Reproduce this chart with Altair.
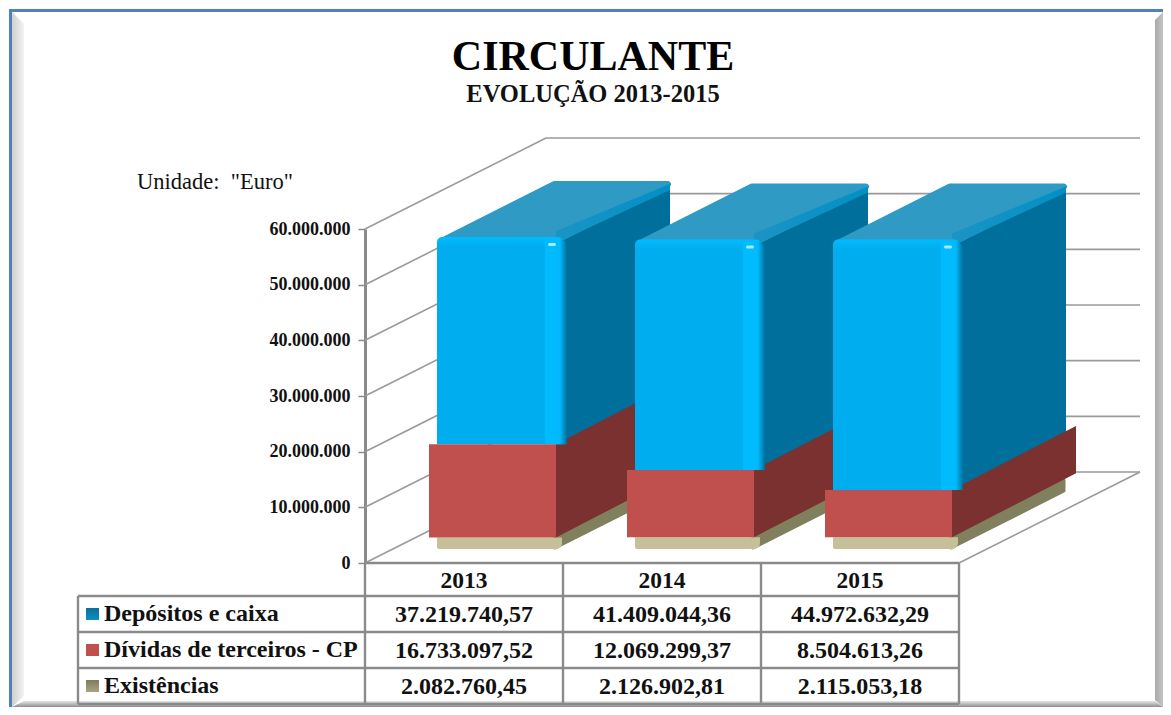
import altair as alt
import pandas as pd

YEARS = ["2013", "2014", "2015"]
SERIES = ["Depósitos e caixa", "Dívidas de terceiros - CP", "Existências"]
DEPOSITOS = [37219740.57, 41409044.36, 44972632.29]
DIVIDAS = [16733097.52, 12069299.37, 8504613.26]
EXISTENCIAS = [2082760.45, 2126902.81, 2115053.18]
TICKS = [0, 10000000, 20000000, 30000000, 40000000, 50000000, 60000000]

FONT = "Liberation Serif"
GRID = "#9a9a9a"
TBL = "#8a8a8a"

# layout helpers: picture position -> scale units
SLOT = 198.0
def ux(px): return (px - 365.0) / SLOT
def uy(py): return (563.0 - py) / 334.0 * 60000000.0
def dxu(d): return d / SLOT
def dyu(d): return d / 334.0 * 60000000.0

BASE = uy(549)
xs = alt.Scale(domain=[0, 3], nice=False, zero=False)
ys = alt.Scale(domain=[0, 60000000], nice=False, zero=False)
AX = alt.Axis(values=TICKS, grid=False, tickSize=7, tickColor=TBL, tickWidth=1.5, domainColor=TBL, domainWidth=3,
              labelFont=FONT, labelFontWeight="bold", labelFontSize=18, labelColor="#111", labelPadding=8,
              labelExpr="replace(format(datum.value, ','), /,/g, '.')")
X = alt.X("x:Q", scale=xs, axis=None)
X2 = alt.X2("x2:Q")
Y = alt.Y("y:Q", scale=ys, axis=AX, title=None)
Y2 = alt.Y2("y2:Q")

def grad(c0, c1, vertical=False, mid=None):
    stops = [alt.GradientStop(color=c0, offset=0)]
    if mid:
        stops.append(alt.GradientStop(color=mid[0], offset=mid[1]))
    stops.append(alt.GradientStop(color=c1, offset=1))
    return alt.LinearGradient(gradient="linear", stops=stops,
                              x1=0, x2=0 if vertical else 1, y1=0, y2=1 if vertical else 0)

def rects(rows, **mark):
    return alt.Chart(pd.DataFrame(rows)).mark_rect(**mark).encode(x=X, x2=X2, y=Y, y2=Y2)

def side(rows, **mark):
    """parallelogram: rows carry k,x,y,y2 ; vertical edges left and right"""
    return alt.Chart(pd.DataFrame(rows)).mark_area(**mark).encode(x=X, y=Y, y2=Y2, detail="k:N")

def flat(rows, **mark):
    """parallelogram with horizontal edges"""
    return alt.Chart(pd.DataFrame(rows)).mark_area(orient="horizontal", **mark).encode(
        y=Y, x=X, x2=X2, detail="k:N")

def rules(rows, color, width):
    return alt.Chart(pd.DataFrame(rows)).mark_rule(color=color, strokeWidth=width).encode(
        x=X, x2=X2, y=Y, y2=Y2)

def para(k, x0, x1, lo, hi, dy):
    return [dict(k=k, x=x0, y=lo, y2=hi), dict(k=k, x=x1, y=lo + dy, y2=hi + dy)]

layers = []

# --- frame bevels (the drawing surface stops at 1163 x 707)
R, B = 1163, 707
layers.append(side([dict(k="l", x=ux(12), y=uy(12), y2=uy(B)), dict(k="l", x=ux(24), y=uy(24), y2=uy(B - 11))],
                   color=grad("#cfcfcf", "#f4f4f4")))
layers.append(side([dict(k="r", x=ux(R - 8), y=uy(20), y2=uy(B - 7)), dict(k="r", x=ux(R), y=uy(12), y2=uy(B))],
                   color=grad("#a9a9a9", "#c4c4c4")))
layers.append(flat([dict(k="b", y=uy(B - 6), x=ux(24), x2=ux(R - 8)), dict(k="b", y=uy(B), x=ux(12), x2=ux(R))],
                   color=grad("#e6e6e6", "#8f8f8f", vertical=True)))
layers.append(rects([dict(x=ux(9), x2=ux(12), y=uy(9), y2=uy(B)),
                     dict(x=ux(9), x2=ux(R), y=uy(9), y2=uy(12))], color="#4F81BD"))

# --- walls (drawn from the axis ticks)
WX, WY = dxu(181), dyu(91)
wall = [dict(x=0, x2=WX, y=t, y2=t + WY) for t in TICKS]
back = [dict(x=WX, x2=3 + WX, y=t + WY, y2=t + WY) for t in TICKS]
floor = [dict(x=3, x2=3 + WX, y=0, y2=WY)]
layers += [rules(wall, GRID, 1.6), rules(back, GRID, 1.6), rules(floor, GRID, 1.6)]

# --- bars
ex_s, ex_f, red_s, red_f = [], [], [], []
blue_s, blue_top, blue_band, blue_f, blue_t, blue_r, blue_h = [], [], [], [], [], [], []
for i, yr in enumerate(YEARS):
    e0, e1 = BASE, BASE + EXISTENCIAS[i]
    r1 = e1 + DIVIDAS[i]
    b1 = r1 + DEPOSITOS[i]
    # existências
    ex_s += para(yr, i + dxu(190), i + dxu(303), e0 + dyu(1), e1, dyu(57))
    ex_f.append(dict(x=i + dxu(72), x2=i + dxu(197), y=e0, y2=e1))
    # dívidas
    red_s += para(yr, i + dxu(191), i + dxu(315), e1, r1, dyu(64))
    red_f.append(dict(x=i + dxu(64), x2=i + dxu(191), y=e1, y2=r1))
    # depósitos
    blue_s += para(yr, i + dxu(198), i + dxu(305), r1, b1 + dyu(2), dyu(51))
    blue_top += [dict(k=yr, y=b1 - dyu(2), x=i + dxu(80), x2=i + dxu(194)),
                 dict(k=yr, y=b1 + dyu(53), x=i + dxu(189), x2=i + dxu(303))]
    blue_band += [dict(k=yr, x=i + dxu(191), y=b1 - dyu(6), y2=b1 + dyu(6)),
                  dict(k=yr, x=i + dxu(305), y=b1 + dyu(47), y2=b1 + dyu(53))]
    blue_f.append(dict(x=i + dxu(72), x2=i + dxu(200), y=r1, y2=b1))
    blue_t.append(dict(x=i + dxu(72), x2=i + dxu(198), y=b1 - dyu(10), y2=b1))
    blue_r.append(dict(x=i + dxu(180), x2=i + dxu(202), y=r1, y2=b1 - dyu(2)))
    blue_h.append(dict(x=i + dxu(183), x2=i + dxu(191), y=b1 - dyu(9), y2=b1 - dyu(6)))

layers += [
    side(ex_s, color="#80805F", stroke="#80805F", strokeWidth=3, strokeJoin="round"),
    side(blue_s, color="#006F9B"),
    side(red_s, color="#7A3130"),
    flat(blue_top, color="#2F9AC4", stroke="#2F9AC4", strokeWidth=6, strokeJoin="round"),
    side(blue_band, color=grad("#1B94C4", "#0090C6")),
    rects(ex_f, color="#C6C09A", cornerRadiusBottomRight=6, cornerRadiusBottomLeft=2),
    rects(blue_f, color="#00ADEF", cornerRadiusTopLeft=9, cornerRadiusTopRight=9),
    rects(blue_t, color=grad("#00BCFF", "#00ADEF", vertical=True), cornerRadiusTopLeft=9, cornerRadiusTopRight=9),
    rects(blue_r, color=grad("#00BCFF", "#006F9B", mid=("#00BAFC", 0.68)), cornerRadiusTopRight=8),
    rects(blue_h, color="#9FEBFF", cornerRadius=1.5),
    rects(red_f, color="#C0504D"),
]

# --- data table
ROW_TOP = [596, 632, 668]
h = []
for py in [563, 596, 632, 668, 704]:
    h.append(dict(x=ux(78) if py >= 596 else 0, x2=3, y=uy(py), y2=uy(py)))
v = [dict(x=ux(78), x2=ux(78), y=uy(596), y2=uy(704))]
for i in range(1, 4):
    v.append(dict(x=i, x2=i, y=uy(563), y2=uy(704)))
v.append(dict(x=0, x2=0, y=0, y2=uy(704)))
layers += [rules(h, TBL, 2.4), rules(v, TBL, 2.4)]

def pt(n):
    return f"{n:,.2f}".replace(",", "#").replace(".", ",").replace("#", ".")

cells = []
for r, vals in enumerate([DEPOSITOS, DIVIDAS, EXISTENCIAS]):
    for i, val in enumerate(vals):
        cells.append(dict(x=i + 0.5, y=uy(ROW_TOP[r] + 18.5), t=pt(val)))
heads = [dict(x=i + 0.5, y=uy(581), t=yr) for i, yr in enumerate(YEARS)]
names = [dict(x=ux(104), y=uy(ROW_TOP[r] + 18), t=s) for r, s in enumerate(SERIES)]
text_enc = dict(x=X, y=Y, text="t:N")
layers.append(alt.Chart(pd.DataFrame(cells)).mark_text(font=FONT, fontWeight="bold", fontSize=24, color="#111",
                                                       baseline="middle").encode(**text_enc))
layers.append(alt.Chart(pd.DataFrame(heads)).mark_text(font=FONT, fontWeight="bold", fontSize=23.5, color="#111",
                                                       baseline="middle").encode(**text_enc))
layers.append(alt.Chart(pd.DataFrame(names)).mark_text(font=FONT, fontWeight="bold", fontSize=24, color="#111",
                                                       baseline="middle", align="left").encode(**text_enc))

# legend keys
SW = [("#0B8FC2", "#0A6F98"), ("#C0504D", "#C0504D"), ("#A8A583", "#7C7C5C")]
for r, (c0, c1) in enumerate(SW):
    mid = ROW_TOP[r] + 18
    layers.append(rects([dict(x=ux(86), x2=ux(99), y=uy(mid - 6), y2=uy(mid + 6))], color=grad(c1, c0, vertical=True)))

# unit label
layers.append(alt.Chart(pd.DataFrame([dict(x=ux(137), y=uy(182), t='Unidade:\u00a0\u00a0"Euro"')])).mark_text(
    font=FONT, fontSize=22.5, color="#111", align="left", baseline="middle").encode(**text_enc))

chart = alt.layer(*layers).properties(
    width=594, height=334,
    padding={"left": 357, "top": 221, "right": 204, "bottom": 144},
    autosize=alt.AutoSizeParams(type="none"),
    background="white",
    title=alt.TitleParams(
        text="CIRCULANTE", subtitle="EVOLUÇÃO 2013-2015",
        font=FONT, fontSize=42, fontWeight="bold", color="#000",
        subtitleFont=FONT, subtitleFontSize=24.5, subtitleFontWeight="bold", subtitleColor="#111",
        subtitlePadding=4, anchor="middle", frame="group", dx=-69, offset=-98),
).configure_view(stroke=None)

chart.save("out.html", embed_options={"renderer": "svg", "actions": False})
